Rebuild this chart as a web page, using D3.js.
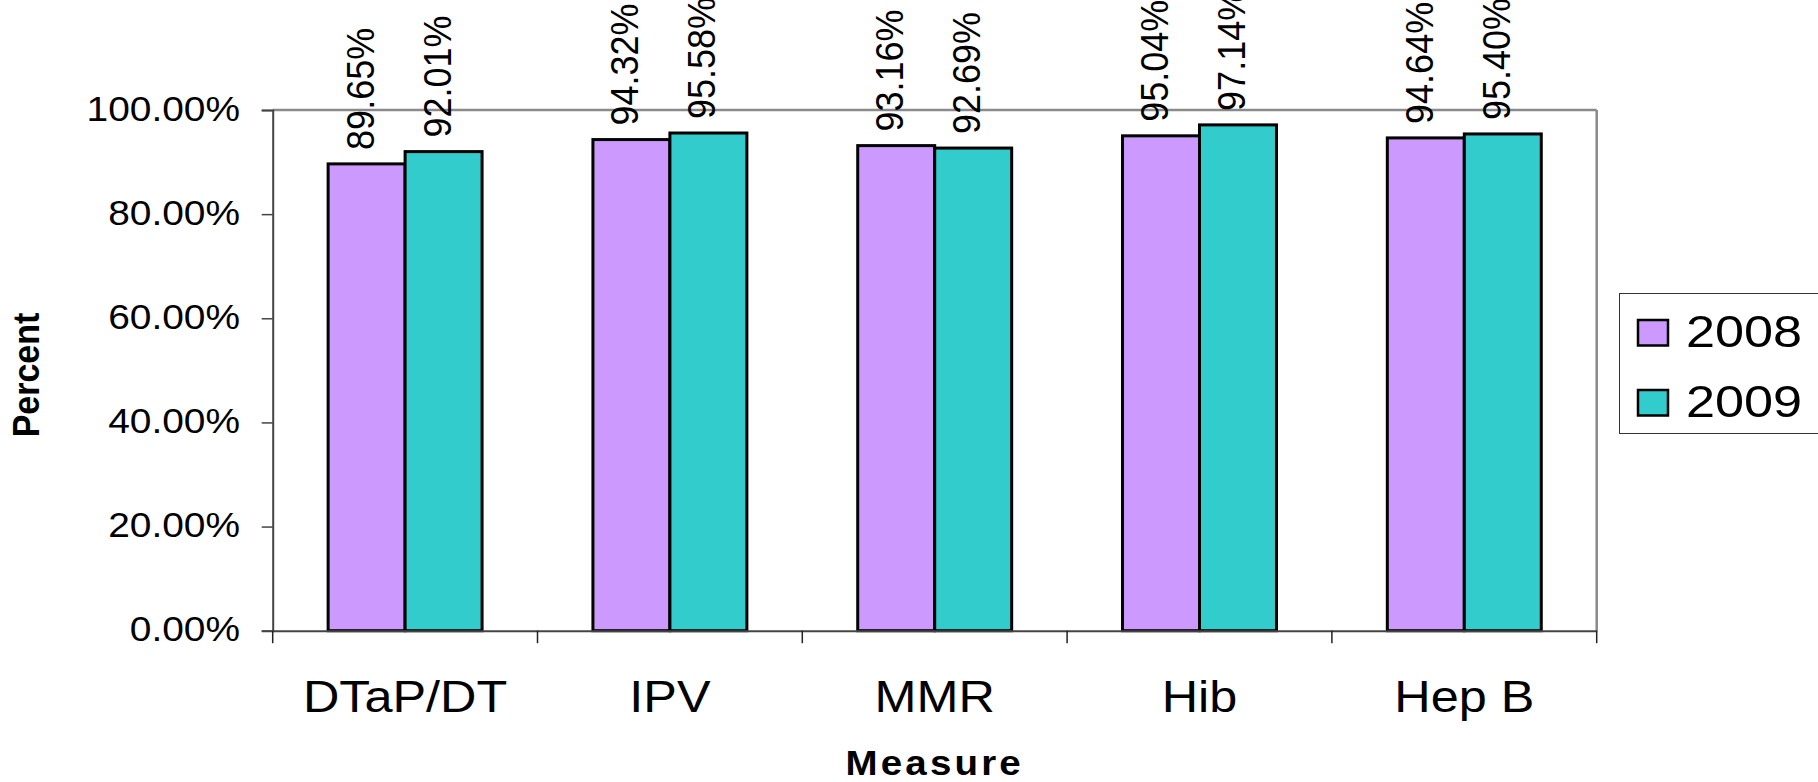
<!DOCTYPE html>
<html>
<head>
<meta charset="utf-8">
<script src="https://cdn.jsdelivr.net/npm/d3@7"></script>
<style>
  html, body { margin: 0; padding: 0; background: #ffffff; }
  svg { display: block; }
  text { font-family: "Liberation Sans", Arial, Helvetica, sans-serif; fill: #000; }
</style>
</head>
<body>
<svg id="chart" width="1818" height="782"></svg>
<script>
const categories = ["DTaP/DT", "IPV", "MMR", "Hib", "Hep B"];
const seriesNames = ["2008", "2009"];
const values2008 = [89.65, 94.32, 93.16, 95.04, 94.64];
const values2009 = [92.01, 95.58, 92.69, 97.14, 95.40];
const seriesColors = ["#CC99FF", "#33CCCC"];
const yTicks = [0, 20, 40, 60, 80, 100];
const xTitle = "Measure";
const yTitle = "Percent";

const svg = d3.select("#chart");
const W = 1818, H = 782;
svg.append("rect").attr("width", W).attr("height", H).attr("fill", "#fff");

const plot = { left: 272.7, right: 1596.7, top: 110, bottom: 630.7 };
const SX = 1.1; // horizontal stretch of the original rendering

const x0 = d3.scaleBand().domain(categories).range([plot.left, plot.right]).paddingInner(0).paddingOuter(0);
const x1 = d3.scaleBand().domain(seriesNames).range([0, x0.bandwidth()]).paddingInner(0).paddingOuter(0.72);
const y = d3.scaleLinear().domain([0, 100]).range([plot.bottom, plot.top]);

const rows = categories.map((c, i) => ({ cat: c, vals: [
  { s: seriesNames[0], v: values2008[i], color: seriesColors[0] },
  { s: seriesNames[1], v: values2009[i], color: seriesColors[1] }
]}));

// plot border (top and right)
svg.append("line").attr("x1", plot.left).attr("x2", plot.right).attr("y1", plot.top).attr("y2", plot.top)
  .attr("stroke", "#8a8a8a").attr("stroke-width", 2.5);
svg.append("line").attr("x1", plot.right).attr("x2", plot.right).attr("y1", plot.top).attr("y2", plot.bottom)
  .attr("stroke", "#8a8a8a").attr("stroke-width", 2.5);

// bars
const groups = svg.append("g").selectAll("g").data(rows).join("g")
  .attr("transform", d => `translate(${x0(d.cat)},0)`);
groups.selectAll("rect").data(d => d.vals).join("rect")
  .attr("x", d => x1(d.s))
  .attr("y", d => y(d.v))
  .attr("width", x1.bandwidth())
  .attr("height", d => y(0) - y(d.v))
  .attr("fill", d => d.color)
  .attr("stroke", "#000").attr("stroke-width", 3);

// value labels
groups.selectAll("text.val").data(d => d.vals).join("text")
  .attr("class", "val")
  .attr("transform", d => `translate(${x1(d.s) + x1.bandwidth() / 2 + 7},${y(d.v) - 14}) rotate(-90) scale(1,1.1)`)
  .attr("text-anchor", "start")
  .attr("font-size", 36)
  .text(d => d.v.toFixed(2) + "%");

// y axis
const yAxis = d3.axisLeft(y).tickValues(yTicks).tickSize(11).tickFormat(d => d.toFixed(2) + "%");
const gy = svg.append("g").attr("transform", `translate(${plot.left},0)`).call(yAxis);
gy.select(".domain").attr("stroke", "#444").attr("stroke-width", 2);
gy.selectAll(".tick line").attr("stroke", "#444").attr("stroke-width", 1.5);
gy.selectAll(".tick text")
  .attr("x", null).attr("dy", null)
  .attr("transform", `translate(${240 - plot.left},10) scale(1.08,1)`)
  .attr("text-anchor", "end")
  .attr("font-size", 36)
  .attr("font-family", "Liberation Sans, Arial, sans-serif")
  .attr("fill", "#000");

// x axis
const xAxis = d3.axisBottom(x0).tickSize(0).tickPadding(0);
const gx = svg.append("g").attr("transform", `translate(0,${plot.bottom})`).call(xAxis);
gx.select(".domain").attr("stroke", "#444").attr("stroke-width", 2);
gx.selectAll(".tick text")
  .attr("y", null).attr("dy", null)
  .attr("transform", `translate(0,${712 - plot.bottom}) scale(1.12,1)`)
  .attr("text-anchor", "middle")
  .attr("font-size", 45)
  .attr("font-family", "Liberation Sans, Arial, sans-serif")
  .attr("fill", "#000");
// category boundary ticks
const bounds = categories.map(c => x0(c)).concat([x0(categories[categories.length - 1]) + x0.bandwidth()]);
svg.append("g").selectAll("line").data(bounds).join("line")
  .attr("x1", d => d).attr("x2", d => d)
  .attr("y1", plot.bottom).attr("y2", plot.bottom + 12.5)
  .attr("stroke", "#222").attr("stroke-width", 1.5);

// axis titles
svg.append("text")
  .attr("transform", `translate(${(plot.left + plot.right) / 2},775) scale(${SX},1)`)
  .attr("text-anchor", "middle")
  .attr("font-size", 35).attr("font-weight", "bold")
  .attr("letter-spacing", 2.9)
  .text(xTitle);
svg.append("text")
  .attr("transform", `translate(39,375) rotate(-90) scale(1,${SX})`)
  .attr("text-anchor", "middle")
  .attr("font-size", 34).attr("font-weight", "bold")
  .text(yTitle);

// legend
const legend = svg.append("g");
legend.append("rect").attr("x", 1619.5).attr("y", 293.5).attr("width", 220).attr("height", 140)
  .attr("fill", "#fff").attr("stroke", "#333").attr("stroke-width", 1);
const li = legend.selectAll("g.item").data(seriesNames).join("g").attr("class", "item")
  .attr("transform", (d, i) => `translate(0,${i * 70})`);
li.append("rect").attr("x", 1638).attr("y", 320).attr("width", 30).attr("height", 25.5)
  .attr("fill", (d, i) => seriesColors[i]).attr("stroke", "#000").attr("stroke-width", 2.5);
li.append("text")
  .attr("transform", `translate(1686,347) scale(1.16,1)`)
  .attr("font-size", 45)
  .text(d => d);
</script>
</body>
</html>
